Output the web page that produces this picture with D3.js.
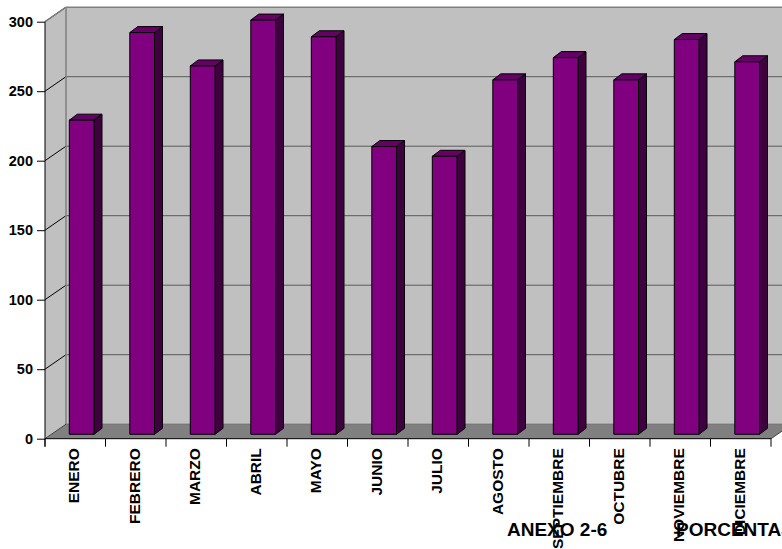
<!DOCTYPE html>
<html>
<head>
<meta charset="utf-8">
<script src="https://cdn.jsdelivr.net/npm/d3@7"></script>
<style>
  html, body { margin: 0; padding: 0; background: #ffffff; }
  svg { display: block; }
  text { font-family: Arial, "Liberation Sans", sans-serif; font-weight: bold; fill: #000; }
</style>
</head>
<body>
<svg id="chart" width="782" height="549"></svg>
<script>
// Monthly totals (3D column chart)
const months = ["ENERO", "FEBRERO", "MARZO", "ABRIL", "MAYO", "JUNIO",
                "JULIO", "AGOSTO", "SEPTIEMBRE", "OCTUBRE", "NOVIEMBRE", "DICIEMBRE"];
const values = [226, 289, 265, 298, 286, 207, 200, 255, 271, 255, 284, 268];
const yTicks = [0, 50, 100, 150, 200, 250, 300];
const titleText = "ANEXO 2-6";
const subtitleText = "PORCENTAJE";

const svg = d3.select("#chart");
const W = 782, H = 549;

// Front plane of the plot
const x0 = 45, x1 = 771;
const y = d3.scaleLinear().domain([0, 300]).range([438.7, 21.7]);
const x = d3.scaleBand().domain(months).range([x0, x1]);

// Depth vector of the walls/floor
const DX = 21, DY = -14.5;
// Bar geometry: front face offset into the depth and bar's own depth
const barFront = { dx: 6, dy: -4.4 };
const barDepth = { dx: 8, dy: -6 };
const barOffset = 18.3;   // from band start, in the front plane
const barWidth = 24.7;

const poly = pts => "M" + pts.map(p => p.join(",")).join("L") + "Z";

// Back wall
const yTop = y(300), yBase = y(0);
svg.append("path")
  .attr("d", poly([[x0 + DX, yTop + DY], [W + 40, yTop + DY], [W + 40, yBase + DY], [x0 + DX, yBase + DY]]))
  .attr("fill", "#c0c0c0");
// Left wall
svg.append("path")
  .attr("d", poly([[x0, yTop], [x0 + DX, yTop + DY], [x0 + DX, yBase + DY], [x0, yBase]]))
  .attr("fill", "#c0c0c0");
// Floor
svg.append("path")
  .attr("d", poly([[x0, yBase], [x0 + DX, yBase + DY], [x1 + DX, yBase + DY], [x1, yBase]]))
  .attr("fill", "#808080");

// Gridlines on the left wall and the back wall
const grid = svg.append("g");
yTicks.filter(v => v > 0).forEach(v => {
  grid.append("line")
    .attr("x1", x0).attr("y1", y(v)).attr("x2", x0 + DX).attr("y2", y(v) + DY)
    .attr("stroke", "#000").attr("stroke-width", 1);
  grid.append("line")
    .attr("x1", x0 + DX).attr("y1", y(v) + DY).attr("x2", W + 40).attr("y2", y(v) + DY)
    .attr("stroke", v === 300 ? "#808080" : "#5a5a5a").attr("stroke-width", v === 300 ? 1.5 : 1);
});
// Wall edges
svg.append("line").attr("x1", x0 + DX).attr("x2", x0 + DX)
  .attr("y1", yTop + DY).attr("y2", yBase + DY).attr("stroke", "#808080").attr("stroke-width", 1.5);
svg.append("line").attr("x1", x0).attr("y1", yTop).attr("x2", x0 + DX).attr("y2", yTop + DY)
  .attr("stroke", "#808080").attr("stroke-width", 1.5);
svg.append("line").attr("x1", x0 + DX).attr("y1", yBase + DY).attr("x2", W + 40).attr("y2", yBase + DY)
  .attr("stroke", "#6a6a6a").attr("stroke-width", 1);
// Floor outline
svg.append("line").attr("x1", x0).attr("y1", yBase).attr("x2", x0 + DX).attr("y2", yBase + DY)
  .attr("stroke", "#404040").attr("stroke-width", 1);
svg.append("line").attr("x1", x1).attr("y1", yBase).attr("x2", x1 + DX).attr("y2", yBase + DY)
  .attr("stroke", "#404040").attr("stroke-width", 1);

// Bars
const bars = svg.append("g");
months.forEach((m, i) => {
  const bx = x(m) + barOffset + barFront.dx;
  const yb = y(0) + barFront.dy;
  const yt = y(values[i]) + barFront.dy;
  const w = barWidth, ddx = barDepth.dx, ddy = barDepth.dy;
  const g = bars.append("g").attr("stroke", "#000").attr("stroke-width", 1).attr("stroke-linejoin", "round");
  // side face
  g.append("path").attr("fill", "#3f003f")
    .attr("d", poly([[bx + w, yt], [bx + w + ddx, yt + ddy], [bx + w + ddx, yb + ddy], [bx + w, yb]]));
  // top face
  g.append("path").attr("fill", "#660066")
    .attr("d", poly([[bx, yt], [bx + ddx, yt + ddy], [bx + w + ddx, yt + ddy], [bx + w, yt]]));
  // front face
  g.append("path").attr("fill", "#800080")
    .attr("d", poly([[bx, yt], [bx + w, yt], [bx + w, yb], [bx, yb]]));
});

// Y axis
const yAxis = svg.append("g")
  .attr("transform", `translate(${x0},0)`)
  .call(d3.axisLeft(y).tickValues(yTicks).tickSize(8).tickPadding(4).tickFormat(d3.format("d")));
yAxis.select(".domain").attr("stroke", "#000").attr("d", `M0,${yTop}V${yBase + 8}`);
yAxis.selectAll(".tick line").attr("stroke", "#000");
yAxis.selectAll(".tick text").style("font-size", "14.5px").style("font-family", "Arial, 'Liberation Sans', sans-serif").style("font-weight", "bold");

// X axis: baseline, boundary ticks and rotated month labels
const xAxis = svg.append("g")
  .attr("transform", `translate(0,${yBase})`)
  .call(d3.axisBottom(x).tickSize(0).tickPadding(0));
xAxis.select(".domain").attr("stroke", "#000").attr("d", `M${x0},0H${x1}`);
xAxis.selectAll(".tick text")
  .attr("transform", "translate(4,9.5) rotate(-90)")
  .attr("x", 0).attr("y", 0).attr("dy", 0)
  .attr("text-anchor", "end")
  .style("font-size", "15.5px")
  .style("font-family", "Arial, 'Liberation Sans', sans-serif")
  .style("font-weight", "bold");
const bounds = months.map(m => x(m)).concat([x1]);
svg.append("g").selectAll("line").data(bounds).join("line")
  .attr("x1", d => d).attr("x2", d => d)
  .attr("y1", yBase).attr("y2", yBase + 8)
  .attr("stroke", "#000").attr("stroke-width", 1);

// Titles below the axis
svg.append("text").attr("x", 507).attr("y", 536)
  .style("font-size", "19px").text(titleText);
svg.append("text").attr("x", 676).attr("y", 536)
  .style("font-size", "19px").text(subtitleText);
</script>
</body>
</html>
